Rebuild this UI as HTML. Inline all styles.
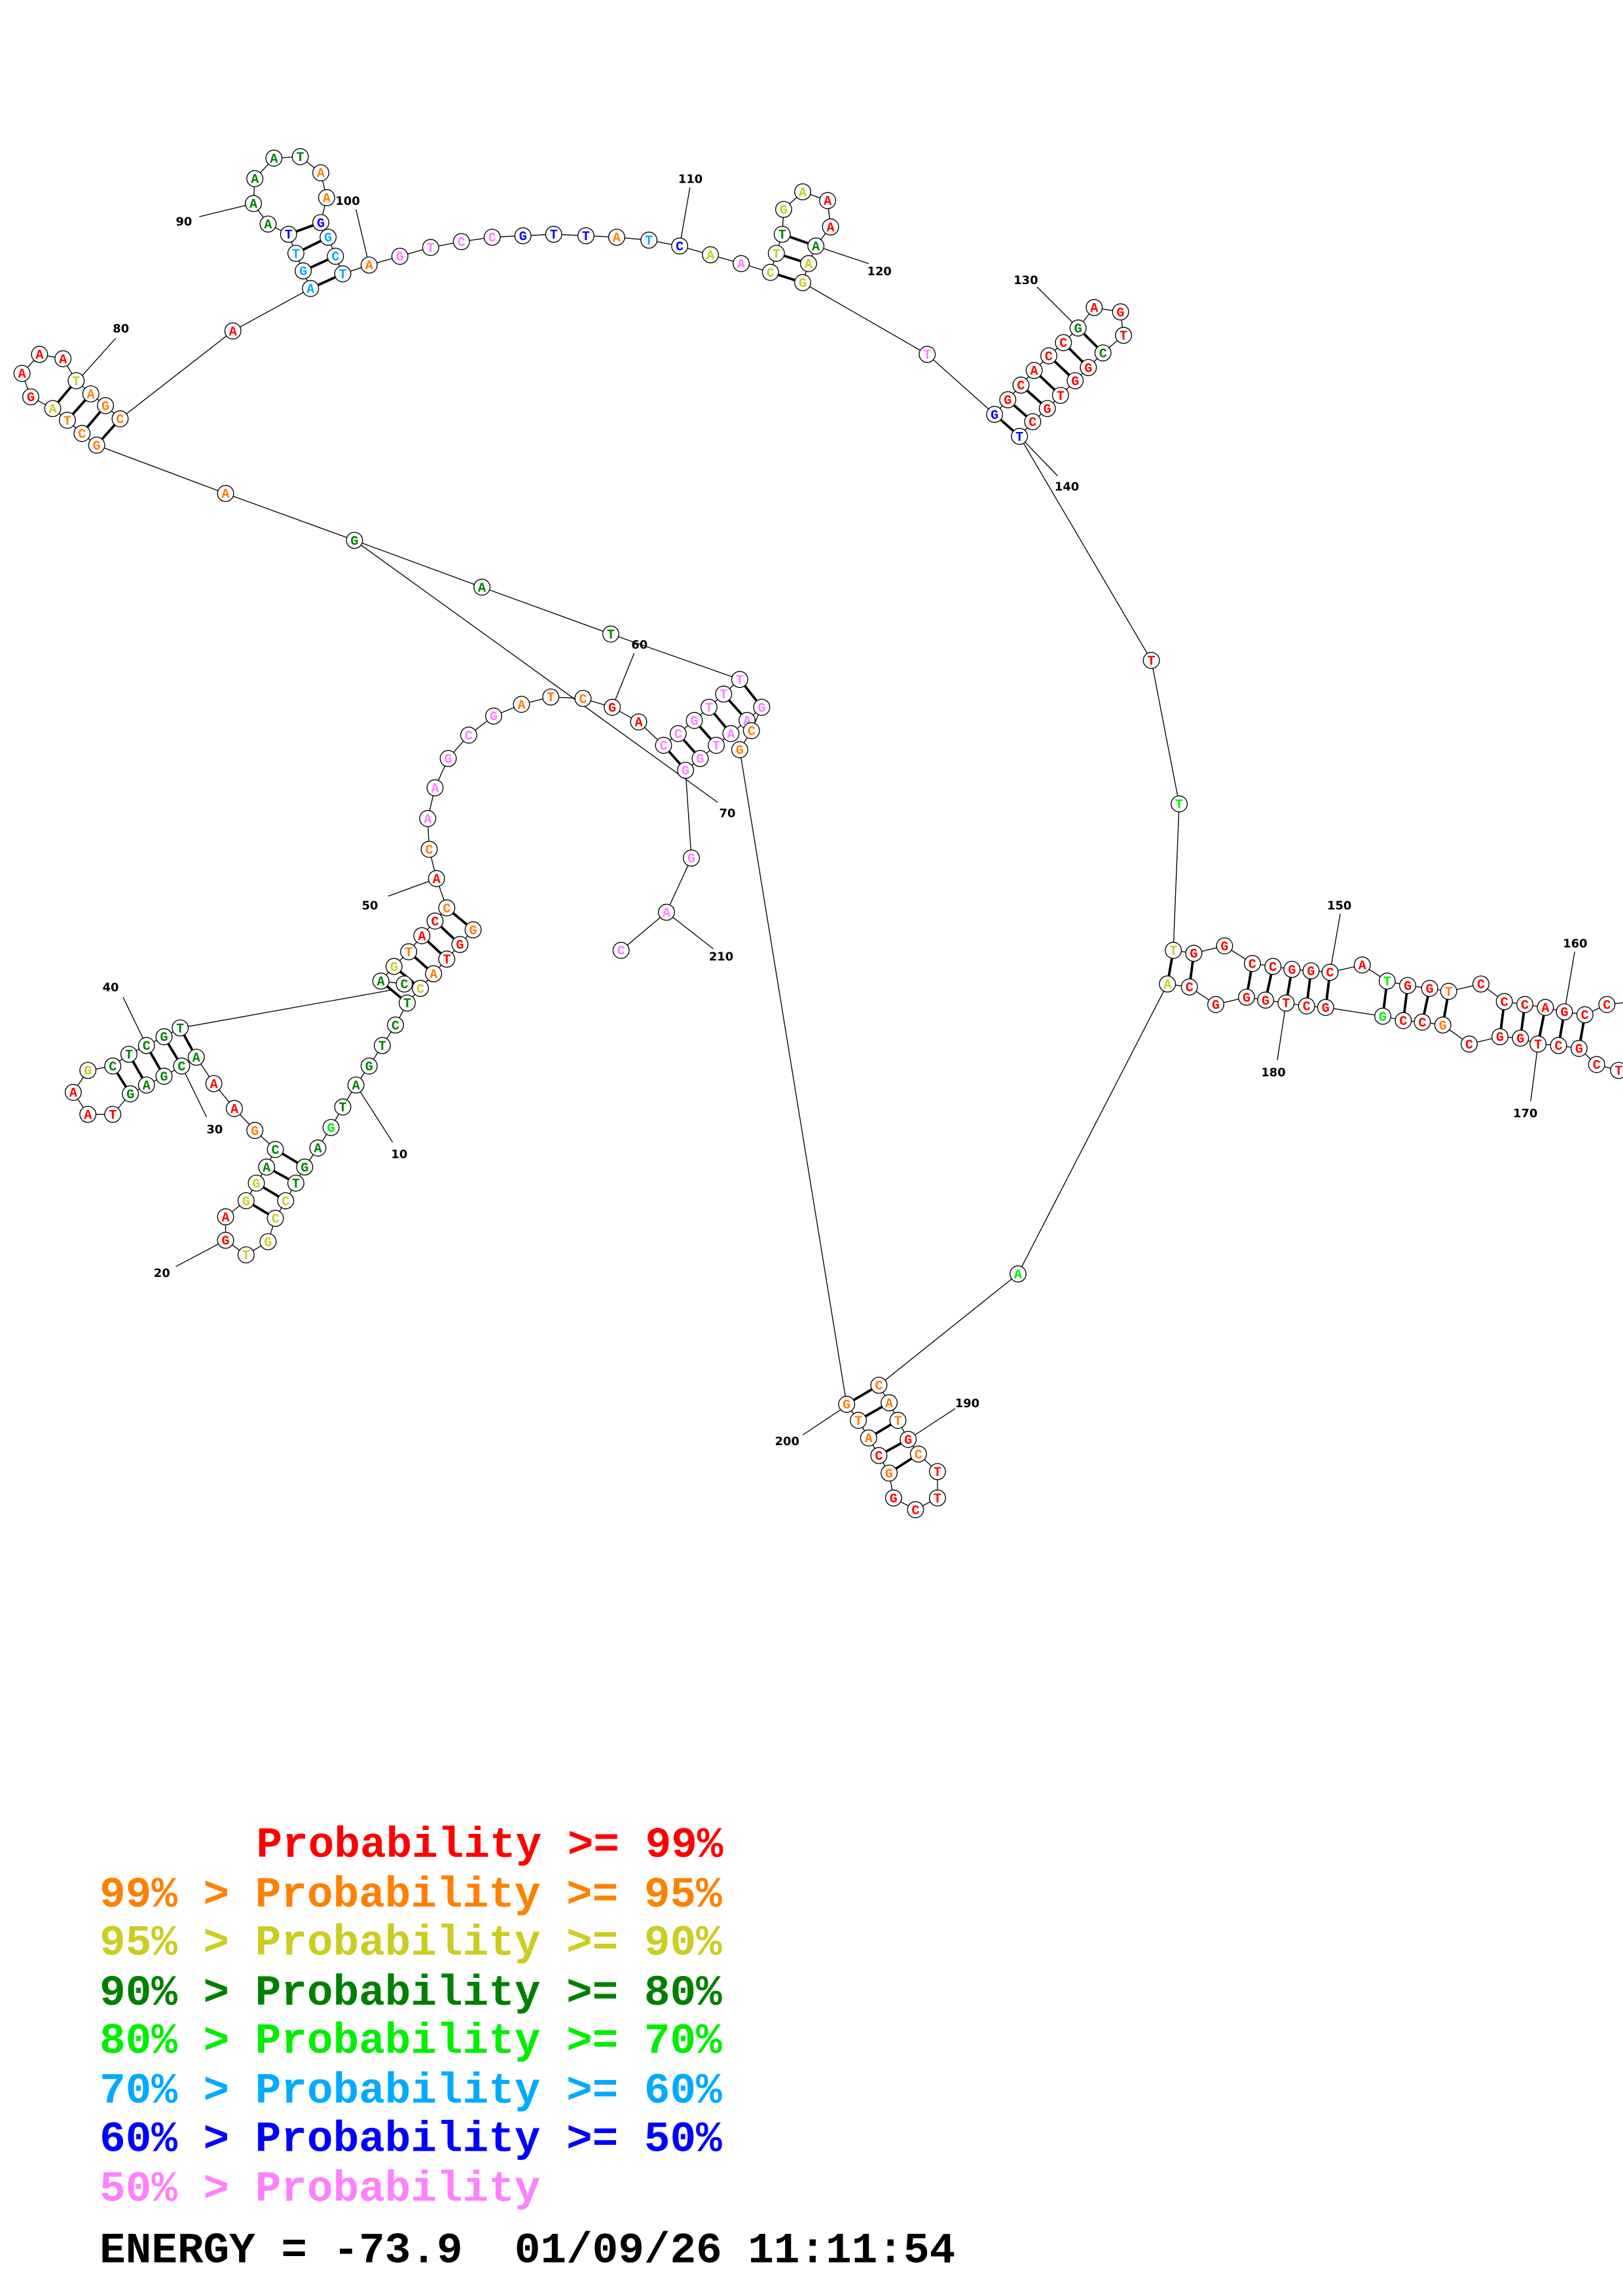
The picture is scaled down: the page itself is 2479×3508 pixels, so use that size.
<!DOCTYPE html>
<html><head><meta charset="utf-8"><style>
html,body{margin:0;padding:0;background:#fff}
svg{display:block}
.n circle{fill:#fff;stroke:#000;stroke-width:.6}
.n text{font-family:"Liberation Mono",monospace;font-weight:bold;font-size:9px;text-anchor:middle}
.R{fill:#f00}.O{fill:#ff8000}.Y{fill:#cccc22}.G{fill:#008000}.L{fill:#00ee00}.B{fill:#00aaff}.N{fill:#0000ff}.P{fill:#ff80ff}
.bb{fill:none;stroke:#000;stroke-width:.6}
.pr{stroke:#000;stroke-width:1.7}
.lb{font-family:"DejaVu Sans","Liberation Sans",sans-serif;font-weight:bold;font-size:8px;fill:#000}
.lg{font-family:"Liberation Mono",monospace;font-weight:bold;font-size:29.5px;white-space:pre}
</style></head><body>
<svg width="2479" height="3508" viewBox="0 0 1108 1568" preserveAspectRatio="none" xmlns="http://www.w3.org/2000/svg">
<polyline class="bb" points="323,635 314,645 305,655 296,665 287,675 278,685 270,700 261,714 252,728 243,741 234,756 226,770 217,784 208,797 202,808 195,820 188,832 183,848 168,857 154,847 154,831 168,820 175,808 182,797 188,785 174,772 160,757 146,740 134,722 124,728 112,735 100,741 89,747 77,761 60,761 50,746 60,731 77,728 88,720 100,714 112,708 123,702 268,676"/>
<polyline class="bb" points="276,672 260,670 269,660 279,650 288,639 297,629 305,620 298,600 293,580 292,559 297,538 306,518 320,502 337,489 356,481 376,476 398,477 418,483 436,493 453,509 463,501 474,492 484,483 494,474 505,464 417,433 329,401 242,369 154,337 66,304 56,296 46,287 36,279 21,271 15,255 27,242 43,245 52,260 62,269 72,277 82,286 159,226 212,197 207,185 202,173 197,160 183,153 173,139 174,122 187,108 205,107 219,118 223,135 219,152 224,162 229,175 234,187 252,181 273,175 294,169 315,165 336,162 357,161 378,160 400,161 421,162 443,164 464,168 485,174 506,180 526,186 530,173 534,160 535,143 548,131 565,137 567,155 557,168 552,180 548,193 633,242 679,283 688,273 697,263 706,253 716,243 726,234 736,224 747,210 765,213 767,229 753,241 743,251 734,260 724,270 715,279 705,288 696,298 786,451 805,549 801,649 815,651 836,646 855,658 869,660 882,662 895,663 908,664 930,659 947,670 961,673 976,675 989,677 1011,672 1027,684 1041,686 1055,688 1068,691 1082,693 1097,686 1115,684"/>
<polyline class="bb" points="1115,735 1105,731 1090,727 1078,716 1064,714 1050,713 1038,709 1024,708 1003,713 985,700 971,698 958,697 944,694 905,688 892,687 878,685 864,683 851,681 830,686 812,674 797,672 695,870 600,946 607,958 613,970 620,983 627,993 640,1005 640,1023 625,1031 610,1023 607,1006 600,994 593,982 586,970 578,959 505,512 513,499 520,483 510,492 499,501 489,509 478,518 468,526 472,586 455,623 424,649"/>
<line class="bb" x1="242" y1="369" x2="490" y2="548"/>
<g class="pr">
<line x1="305" y1="620" x2="323" y2="635"/><line x1="297" y1="629" x2="314" y2="645"/><line x1="288" y1="639" x2="305" y2="655"/><line x1="279" y1="650" x2="296" y2="665"/><line x1="269" y1="660" x2="287" y2="675"/><line x1="260" y1="670" x2="278" y2="685"/>
<line x1="188" y1="785" x2="208" y2="797"/><line x1="182" y1="797" x2="202" y2="808"/><line x1="175" y1="808" x2="195" y2="820"/><line x1="168" y1="820" x2="188" y2="832"/>
<line x1="123" y1="702" x2="134" y2="722"/><line x1="112" y1="708" x2="124" y2="728"/><line x1="100" y1="714" x2="112" y2="735"/><line x1="88" y1="720" x2="100" y2="741"/><line x1="77" y1="728" x2="89" y2="747"/>
<line x1="505" y1="464" x2="520" y2="483"/><line x1="494" y1="474" x2="510" y2="492"/><line x1="484" y1="483" x2="499" y2="501"/><line x1="474" y1="492" x2="489" y2="509"/><line x1="463" y1="501" x2="478" y2="518"/><line x1="453" y1="509" x2="468" y2="526"/>
<line x1="52" y1="260" x2="36" y2="279"/><line x1="62" y1="269" x2="46" y2="287"/><line x1="72" y1="277" x2="56" y2="296"/><line x1="82" y1="286" x2="66" y2="304"/>
<line x1="212" y1="197" x2="234" y2="187"/><line x1="207" y1="185" x2="229" y2="175"/><line x1="202" y1="173" x2="224" y2="162"/><line x1="197" y1="160" x2="219" y2="152"/>
<line x1="526" y1="186" x2="548" y2="193"/><line x1="530" y1="173" x2="552" y2="180"/><line x1="534" y1="160" x2="557" y2="168"/>
<line x1="679" y1="283" x2="696" y2="298"/><line x1="688" y1="273" x2="705" y2="288"/><line x1="697" y1="263" x2="715" y2="279"/><line x1="706" y1="253" x2="724" y2="270"/><line x1="716" y1="243" x2="734" y2="260"/><line x1="726" y1="234" x2="743" y2="251"/><line x1="736" y1="224" x2="753" y2="241"/>
<line x1="801" y1="649" x2="797" y2="672"/><line x1="815" y1="651" x2="812" y2="674"/><line x1="855" y1="658" x2="851" y2="681"/><line x1="869" y1="660" x2="864" y2="683"/><line x1="882" y1="662" x2="878" y2="685"/><line x1="895" y1="663" x2="892" y2="687"/><line x1="908" y1="664" x2="905" y2="688"/><line x1="947" y1="670" x2="944" y2="694"/><line x1="961" y1="673" x2="958" y2="697"/><line x1="976" y1="675" x2="971" y2="698"/><line x1="989" y1="677" x2="985" y2="700"/><line x1="1027" y1="684" x2="1024" y2="708"/><line x1="1041" y1="686" x2="1038" y2="709"/><line x1="1055" y1="688" x2="1050" y2="713"/><line x1="1068" y1="691" x2="1064" y2="714"/><line x1="1082" y1="693" x2="1078" y2="716"/>
<line x1="600" y1="946" x2="578" y2="959"/><line x1="607" y1="958" x2="586" y2="970"/><line x1="613" y1="970" x2="593" y2="982"/><line x1="620" y1="983" x2="600" y2="994"/><line x1="627" y1="993" x2="607" y2="1006"/>
</g>
<g class="bb">
<line x1="243" y1="741" x2="268" y2="780"/><line x1="120" y1="865" x2="154" y2="847"/><line x1="124" y1="728" x2="141" y2="763"/><line x1="84" y1="681" x2="100" y2="714"/><line x1="265" y1="612" x2="298" y2="600"/><line x1="433" y1="446" x2="418" y2="483"/><line x1="79" y1="231" x2="53" y2="260"/><line x1="136" y1="148" x2="173" y2="139"/><line x1="243" y1="143" x2="252" y2="181"/><line x1="471" y1="128" x2="464" y2="168"/><line x1="593" y1="180" x2="557" y2="168"/><line x1="708" y1="196" x2="736" y2="224"/><line x1="722" y1="325" x2="696" y2="298"/><line x1="915" y1="624" x2="908" y2="664"/><line x1="1075" y1="650" x2="1068" y2="691"/><line x1="1045" y1="752" x2="1050" y2="713"/><line x1="872" y1="724" x2="878" y2="685"/><line x1="652" y1="962" x2="620" y2="983"/><line x1="548" y1="980" x2="578" y2="960"/><line x1="487" y1="648" x2="455" y2="623"/>
</g>
<g>
<text class="lb" x="267" y="791">10</text><text class="lb" x="105" y="872">20</text><text class="lb" x="141" y="774">30</text><text class="lb" x="70" y="677">40</text><text class="lb" x="247" y="621">50</text><text class="lb" x="431" y="443">60</text><text class="lb" x="491" y="558">70</text><text class="lb" x="77" y="227">80</text><text class="lb" x="120" y="154">90</text><text class="lb" x="229" y="140">100</text><text class="lb" x="463" y="125">110</text><text class="lb" x="592" y="188">120</text><text class="lb" x="692" y="194">130</text><text class="lb" x="720" y="335">140</text><text class="lb" x="906" y="621">150</text><text class="lb" x="1067" y="647">160</text><text class="lb" x="1033" y="763">170</text><text class="lb" x="861" y="735">180</text><text class="lb" x="652" y="961">190</text><text class="lb" x="529" y="987">200</text><text class="lb" x="484" y="656">210</text>
</g>
<g class="n">
<g transform="translate(323,635)"><circle r="5.5"/><text class="O" y="3">G</text></g>
<g transform="translate(314,645)"><circle r="5.5"/><text class="R" y="3">G</text></g>
<g transform="translate(305,655)"><circle r="5.5"/><text class="R" y="3">T</text></g>
<g transform="translate(296,665)"><circle r="5.5"/><text class="O" y="3">A</text></g>
<g transform="translate(287,675)"><circle r="5.5"/><text class="Y" y="3">C</text></g>
<g transform="translate(278,685)"><circle r="5.5"/><text class="G" y="3">T</text></g>
<g transform="translate(270,700)"><circle r="5.5"/><text class="G" y="3">C</text></g>
<g transform="translate(261,714)"><circle r="5.5"/><text class="G" y="3">T</text></g>
<g transform="translate(252,728)"><circle r="5.5"/><text class="G" y="3">G</text></g>
<g transform="translate(243,741)"><circle r="5.5"/><text class="G" y="3">A</text></g>
<g transform="translate(234,756)"><circle r="5.5"/><text class="G" y="3">T</text></g>
<g transform="translate(226,770)"><circle r="5.5"/><text class="L" y="3">G</text></g>
<g transform="translate(217,784)"><circle r="5.5"/><text class="G" y="3">A</text></g>
<g transform="translate(208,797)"><circle r="5.5"/><text class="G" y="3">G</text></g>
<g transform="translate(202,808)"><circle r="5.5"/><text class="G" y="3">T</text></g>
<g transform="translate(195,820)"><circle r="5.5"/><text class="Y" y="3">C</text></g>
<g transform="translate(188,832)"><circle r="5.5"/><text class="Y" y="3">C</text></g>
<g transform="translate(183,848)"><circle r="5.5"/><text class="Y" y="3">G</text></g>
<g transform="translate(168,857)"><circle r="5.5"/><text class="Y" y="3">T</text></g>
<g transform="translate(154,847)"><circle r="5.5"/><text class="R" y="3">G</text></g>
<g transform="translate(154,831)"><circle r="5.5"/><text class="R" y="3">A</text></g>
<g transform="translate(168,820)"><circle r="5.5"/><text class="Y" y="3">G</text></g>
<g transform="translate(175,808)"><circle r="5.5"/><text class="Y" y="3">G</text></g>
<g transform="translate(182,797)"><circle r="5.5"/><text class="G" y="3">A</text></g>
<g transform="translate(188,785)"><circle r="5.5"/><text class="G" y="3">C</text></g>
<g transform="translate(174,772)"><circle r="5.5"/><text class="O" y="3">G</text></g>
<g transform="translate(160,757)"><circle r="5.5"/><text class="R" y="3">A</text></g>
<g transform="translate(146,740)"><circle r="5.5"/><text class="R" y="3">A</text></g>
<g transform="translate(134,722)"><circle r="5.5"/><text class="G" y="3">A</text></g>
<g transform="translate(124,728)"><circle r="5.5"/><text class="G" y="3">C</text></g>
<g transform="translate(112,735)"><circle r="5.5"/><text class="G" y="3">G</text></g>
<g transform="translate(100,741)"><circle r="5.5"/><text class="G" y="3">A</text></g>
<g transform="translate(89,747)"><circle r="5.5"/><text class="G" y="3">G</text></g>
<g transform="translate(77,761)"><circle r="5.5"/><text class="R" y="3">T</text></g>
<g transform="translate(60,761)"><circle r="5.5"/><text class="R" y="3">A</text></g>
<g transform="translate(50,746)"><circle r="5.5"/><text class="R" y="3">A</text></g>
<g transform="translate(60,731)"><circle r="5.5"/><text class="Y" y="3">G</text></g>
<g transform="translate(77,728)"><circle r="5.5"/><text class="G" y="3">C</text></g>
<g transform="translate(88,720)"><circle r="5.5"/><text class="G" y="3">T</text></g>
<g transform="translate(100,714)"><circle r="5.5"/><text class="G" y="3">C</text></g>
<g transform="translate(112,708)"><circle r="5.5"/><text class="G" y="3">G</text></g>
<g transform="translate(123,702)"><circle r="5.5"/><text class="G" y="3">T</text></g>
<g transform="translate(260,670)"><circle r="5.5"/><text class="G" y="3">A</text></g>
<g transform="translate(276,672)"><circle r="5.5"/><text class="G" y="3">C</text></g>
<g transform="translate(269,660)"><circle r="5.5"/><text class="Y" y="3">G</text></g>
<g transform="translate(279,650)"><circle r="5.5"/><text class="O" y="3">T</text></g>
<g transform="translate(288,639)"><circle r="5.5"/><text class="R" y="3">A</text></g>
<g transform="translate(297,629)"><circle r="5.5"/><text class="R" y="3">C</text></g>
<g transform="translate(305,620)"><circle r="5.5"/><text class="O" y="3">C</text></g>
<g transform="translate(298,600)"><circle r="5.5"/><text class="R" y="3">A</text></g>
<g transform="translate(293,580)"><circle r="5.5"/><text class="O" y="3">C</text></g>
<g transform="translate(292,559)"><circle r="5.5"/><text class="P" y="3">A</text></g>
<g transform="translate(297,538)"><circle r="5.5"/><text class="P" y="3">A</text></g>
<g transform="translate(306,518)"><circle r="5.5"/><text class="P" y="3">G</text></g>
<g transform="translate(320,502)"><circle r="5.5"/><text class="P" y="3">C</text></g>
<g transform="translate(337,489)"><circle r="5.5"/><text class="P" y="3">G</text></g>
<g transform="translate(356,481)"><circle r="5.5"/><text class="O" y="3">A</text></g>
<g transform="translate(376,476)"><circle r="5.5"/><text class="O" y="3">T</text></g>
<g transform="translate(398,477)"><circle r="5.5"/><text class="O" y="3">C</text></g>
<g transform="translate(418,483)"><circle r="5.5"/><text class="R" y="3">G</text></g>
<g transform="translate(436,493)"><circle r="5.5"/><text class="R" y="3">A</text></g>
<g transform="translate(453,509)"><circle r="5.5"/><text class="P" y="3">C</text></g>
<g transform="translate(463,501)"><circle r="5.5"/><text class="P" y="3">C</text></g>
<g transform="translate(474,492)"><circle r="5.5"/><text class="P" y="3">G</text></g>
<g transform="translate(484,483)"><circle r="5.5"/><text class="P" y="3">T</text></g>
<g transform="translate(494,474)"><circle r="5.5"/><text class="P" y="3">T</text></g>
<g transform="translate(505,464)"><circle r="5.5"/><text class="P" y="3">T</text></g>
<g transform="translate(417,433)"><circle r="5.5"/><text class="G" y="3">T</text></g>
<g transform="translate(329,401)"><circle r="5.5"/><text class="G" y="3">A</text></g>
<g transform="translate(242,369)"><circle r="5.5"/><text class="G" y="3">G</text></g>
<g transform="translate(154,337)"><circle r="5.5"/><text class="O" y="3">A</text></g>
<g transform="translate(66,304)"><circle r="5.5"/><text class="O" y="3">G</text></g>
<g transform="translate(56,296)"><circle r="5.5"/><text class="O" y="3">C</text></g>
<g transform="translate(46,287)"><circle r="5.5"/><text class="O" y="3">T</text></g>
<g transform="translate(36,279)"><circle r="5.5"/><text class="Y" y="3">A</text></g>
<g transform="translate(21,271)"><circle r="5.5"/><text class="R" y="3">G</text></g>
<g transform="translate(15,255)"><circle r="5.5"/><text class="R" y="3">A</text></g>
<g transform="translate(27,242)"><circle r="5.5"/><text class="R" y="3">A</text></g>
<g transform="translate(43,245)"><circle r="5.5"/><text class="R" y="3">A</text></g>
<g transform="translate(52,260)"><circle r="5.5"/><text class="Y" y="3">T</text></g>
<g transform="translate(62,269)"><circle r="5.5"/><text class="O" y="3">A</text></g>
<g transform="translate(72,277)"><circle r="5.5"/><text class="O" y="3">G</text></g>
<g transform="translate(82,286)"><circle r="5.5"/><text class="O" y="3">C</text></g>
<g transform="translate(159,226)"><circle r="5.5"/><text class="R" y="3">A</text></g>
<g transform="translate(212,197)"><circle r="5.5"/><text class="B" y="3">A</text></g>
<g transform="translate(207,185)"><circle r="5.5"/><text class="B" y="3">G</text></g>
<g transform="translate(202,173)"><circle r="5.5"/><text class="B" y="3">T</text></g>
<g transform="translate(197,160)"><circle r="5.5"/><text class="N" y="3">T</text></g>
<g transform="translate(183,153)"><circle r="5.5"/><text class="G" y="3">A</text></g>
<g transform="translate(173,139)"><circle r="5.5"/><text class="G" y="3">A</text></g>
<g transform="translate(174,122)"><circle r="5.5"/><text class="G" y="3">A</text></g>
<g transform="translate(187,108)"><circle r="5.5"/><text class="G" y="3">A</text></g>
<g transform="translate(205,107)"><circle r="5.5"/><text class="G" y="3">T</text></g>
<g transform="translate(219,118)"><circle r="5.5"/><text class="O" y="3">A</text></g>
<g transform="translate(223,135)"><circle r="5.5"/><text class="O" y="3">A</text></g>
<g transform="translate(219,152)"><circle r="5.5"/><text class="N" y="3">G</text></g>
<g transform="translate(224,162)"><circle r="5.5"/><text class="B" y="3">G</text></g>
<g transform="translate(229,175)"><circle r="5.5"/><text class="B" y="3">C</text></g>
<g transform="translate(234,187)"><circle r="5.5"/><text class="B" y="3">T</text></g>
<g transform="translate(252,181)"><circle r="5.5"/><text class="O" y="3">A</text></g>
<g transform="translate(273,175)"><circle r="5.5"/><text class="P" y="3">G</text></g>
<g transform="translate(294,169)"><circle r="5.5"/><text class="P" y="3">T</text></g>
<g transform="translate(315,165)"><circle r="5.5"/><text class="P" y="3">C</text></g>
<g transform="translate(336,162)"><circle r="5.5"/><text class="P" y="3">C</text></g>
<g transform="translate(357,161)"><circle r="5.5"/><text class="N" y="3">G</text></g>
<g transform="translate(378,160)"><circle r="5.5"/><text class="N" y="3">T</text></g>
<g transform="translate(400,161)"><circle r="5.5"/><text class="N" y="3">T</text></g>
<g transform="translate(421,162)"><circle r="5.5"/><text class="O" y="3">A</text></g>
<g transform="translate(443,164)"><circle r="5.5"/><text class="B" y="3">T</text></g>
<g transform="translate(464,168)"><circle r="5.5"/><text class="N" y="3">C</text></g>
<g transform="translate(485,174)"><circle r="5.5"/><text class="Y" y="3">A</text></g>
<g transform="translate(506,180)"><circle r="5.5"/><text class="P" y="3">A</text></g>
<g transform="translate(526,186)"><circle r="5.5"/><text class="Y" y="3">C</text></g>
<g transform="translate(530,173)"><circle r="5.5"/><text class="Y" y="3">T</text></g>
<g transform="translate(534,160)"><circle r="5.5"/><text class="G" y="3">T</text></g>
<g transform="translate(535,143)"><circle r="5.5"/><text class="Y" y="3">G</text></g>
<g transform="translate(548,131)"><circle r="5.5"/><text class="Y" y="3">A</text></g>
<g transform="translate(565,137)"><circle r="5.5"/><text class="R" y="3">A</text></g>
<g transform="translate(567,155)"><circle r="5.5"/><text class="R" y="3">A</text></g>
<g transform="translate(557,168)"><circle r="5.5"/><text class="G" y="3">A</text></g>
<g transform="translate(552,180)"><circle r="5.5"/><text class="Y" y="3">A</text></g>
<g transform="translate(548,193)"><circle r="5.5"/><text class="Y" y="3">G</text></g>
<g transform="translate(633,242)"><circle r="5.5"/><text class="P" y="3">T</text></g>
<g transform="translate(679,283)"><circle r="5.5"/><text class="N" y="3">G</text></g>
<g transform="translate(688,273)"><circle r="5.5"/><text class="R" y="3">G</text></g>
<g transform="translate(697,263)"><circle r="5.5"/><text class="R" y="3">C</text></g>
<g transform="translate(706,253)"><circle r="5.5"/><text class="R" y="3">A</text></g>
<g transform="translate(716,243)"><circle r="5.5"/><text class="R" y="3">C</text></g>
<g transform="translate(726,234)"><circle r="5.5"/><text class="R" y="3">C</text></g>
<g transform="translate(736,224)"><circle r="5.5"/><text class="G" y="3">G</text></g>
<g transform="translate(747,210)"><circle r="5.5"/><text class="R" y="3">A</text></g>
<g transform="translate(765,213)"><circle r="5.5"/><text class="R" y="3">G</text></g>
<g transform="translate(767,229)"><circle r="5.5"/><text class="R" y="3">T</text></g>
<g transform="translate(753,241)"><circle r="5.5"/><text class="G" y="3">C</text></g>
<g transform="translate(743,251)"><circle r="5.5"/><text class="R" y="3">G</text></g>
<g transform="translate(734,260)"><circle r="5.5"/><text class="R" y="3">G</text></g>
<g transform="translate(724,270)"><circle r="5.5"/><text class="R" y="3">T</text></g>
<g transform="translate(715,279)"><circle r="5.5"/><text class="R" y="3">G</text></g>
<g transform="translate(705,288)"><circle r="5.5"/><text class="R" y="3">C</text></g>
<g transform="translate(696,298)"><circle r="5.5"/><text class="N" y="3">T</text></g>
<g transform="translate(786,451)"><circle r="5.5"/><text class="R" y="3">T</text></g>
<g transform="translate(805,549)"><circle r="5.5"/><text class="L" y="3">T</text></g>
<g transform="translate(801,649)"><circle r="5.5"/><text class="Y" y="3">T</text></g>
<g transform="translate(815,651)"><circle r="5.5"/><text class="R" y="3">G</text></g>
<g transform="translate(836,646)"><circle r="5.5"/><text class="R" y="3">G</text></g>
<g transform="translate(855,658)"><circle r="5.5"/><text class="R" y="3">C</text></g>
<g transform="translate(869,660)"><circle r="5.5"/><text class="R" y="3">C</text></g>
<g transform="translate(882,662)"><circle r="5.5"/><text class="R" y="3">G</text></g>
<g transform="translate(895,663)"><circle r="5.5"/><text class="R" y="3">G</text></g>
<g transform="translate(908,664)"><circle r="5.5"/><text class="R" y="3">C</text></g>
<g transform="translate(930,659)"><circle r="5.5"/><text class="R" y="3">A</text></g>
<g transform="translate(947,670)"><circle r="5.5"/><text class="L" y="3">T</text></g>
<g transform="translate(961,673)"><circle r="5.5"/><text class="R" y="3">G</text></g>
<g transform="translate(976,675)"><circle r="5.5"/><text class="R" y="3">G</text></g>
<g transform="translate(989,677)"><circle r="5.5"/><text class="O" y="3">T</text></g>
<g transform="translate(1011,672)"><circle r="5.5"/><text class="R" y="3">C</text></g>
<g transform="translate(1027,684)"><circle r="5.5"/><text class="R" y="3">C</text></g>
<g transform="translate(1041,686)"><circle r="5.5"/><text class="R" y="3">C</text></g>
<g transform="translate(1055,688)"><circle r="5.5"/><text class="R" y="3">A</text></g>
<g transform="translate(1068,691)"><circle r="5.5"/><text class="R" y="3">G</text></g>
<g transform="translate(1082,693)"><circle r="5.5"/><text class="R" y="3">C</text></g>
<g transform="translate(1097,686)"><circle r="5.5"/><text class="R" y="3">C</text></g>
<g transform="translate(1105,731)"><circle r="5.5"/><text class="R" y="3">T</text></g>
<g transform="translate(1090,727)"><circle r="5.5"/><text class="R" y="3">C</text></g>
<g transform="translate(1078,716)"><circle r="5.5"/><text class="R" y="3">G</text></g>
<g transform="translate(1064,714)"><circle r="5.5"/><text class="R" y="3">C</text></g>
<g transform="translate(1050,713)"><circle r="5.5"/><text class="R" y="3">T</text></g>
<g transform="translate(1038,709)"><circle r="5.5"/><text class="R" y="3">G</text></g>
<g transform="translate(1024,708)"><circle r="5.5"/><text class="R" y="3">G</text></g>
<g transform="translate(1003,713)"><circle r="5.5"/><text class="R" y="3">C</text></g>
<g transform="translate(985,700)"><circle r="5.5"/><text class="O" y="3">G</text></g>
<g transform="translate(971,698)"><circle r="5.5"/><text class="R" y="3">C</text></g>
<g transform="translate(958,697)"><circle r="5.5"/><text class="R" y="3">C</text></g>
<g transform="translate(944,694)"><circle r="5.5"/><text class="L" y="3">G</text></g>
<g transform="translate(905,688)"><circle r="5.5"/><text class="R" y="3">G</text></g>
<g transform="translate(892,687)"><circle r="5.5"/><text class="R" y="3">C</text></g>
<g transform="translate(878,685)"><circle r="5.5"/><text class="R" y="3">T</text></g>
<g transform="translate(864,683)"><circle r="5.5"/><text class="R" y="3">G</text></g>
<g transform="translate(851,681)"><circle r="5.5"/><text class="R" y="3">G</text></g>
<g transform="translate(830,686)"><circle r="5.5"/><text class="R" y="3">G</text></g>
<g transform="translate(812,674)"><circle r="5.5"/><text class="R" y="3">C</text></g>
<g transform="translate(797,672)"><circle r="5.5"/><text class="Y" y="3">A</text></g>
<g transform="translate(695,870)"><circle r="5.5"/><text class="L" y="3">A</text></g>
<g transform="translate(600,946)"><circle r="5.5"/><text class="O" y="3">C</text></g>
<g transform="translate(607,958)"><circle r="5.5"/><text class="O" y="3">A</text></g>
<g transform="translate(613,970)"><circle r="5.5"/><text class="O" y="3">T</text></g>
<g transform="translate(620,983)"><circle r="5.5"/><text class="R" y="3">G</text></g>
<g transform="translate(627,993)"><circle r="5.5"/><text class="O" y="3">C</text></g>
<g transform="translate(640,1005)"><circle r="5.5"/><text class="R" y="3">T</text></g>
<g transform="translate(640,1023)"><circle r="5.5"/><text class="R" y="3">T</text></g>
<g transform="translate(625,1031)"><circle r="5.5"/><text class="R" y="3">C</text></g>
<g transform="translate(610,1023)"><circle r="5.5"/><text class="R" y="3">G</text></g>
<g transform="translate(607,1006)"><circle r="5.5"/><text class="O" y="3">G</text></g>
<g transform="translate(600,994)"><circle r="5.5"/><text class="R" y="3">C</text></g>
<g transform="translate(593,982)"><circle r="5.5"/><text class="O" y="3">A</text></g>
<g transform="translate(586,970)"><circle r="5.5"/><text class="O" y="3">T</text></g>
<g transform="translate(578,959)"><circle r="5.5"/><text class="O" y="3">G</text></g>
<g transform="translate(505,512)"><circle r="5.5"/><text class="O" y="3">G</text></g>
<g transform="translate(520,483)"><circle r="5.5"/><text class="P" y="3">G</text></g>
<g transform="translate(510,492)"><circle r="5.5"/><text class="P" y="3">A</text></g>
<g transform="translate(513,499)"><circle r="5.5"/><text class="O" y="3">C</text></g>
<g transform="translate(499,501)"><circle r="5.5"/><text class="P" y="3">A</text></g>
<g transform="translate(489,509)"><circle r="5.5"/><text class="P" y="3">T</text></g>
<g transform="translate(478,518)"><circle r="5.5"/><text class="P" y="3">G</text></g>
<g transform="translate(468,526)"><circle r="5.5"/><text class="P" y="3">G</text></g>
<g transform="translate(472,586)"><circle r="5.5"/><text class="P" y="3">G</text></g>
<g transform="translate(455,623)"><circle r="5.5"/><text class="P" y="3">A</text></g>
<g transform="translate(424,649)"><circle r="5.5"/><text class="P" y="3">C</text></g>
</g>
<g class="lg">
<text x="175" y="1268" fill="#ff0000">Probability &gt;= 99%</text>
<text x="68" y="1302" fill="#ff8000">99% &gt; Probability &gt;= 95%</text>
<text x="68" y="1335" fill="#cccc22">95% &gt; Probability &gt;= 90%</text>
<text x="68" y="1369" fill="#008000">90% &gt; Probability &gt;= 80%</text>
<text x="68" y="1402" fill="#00ee00">80% &gt; Probability &gt;= 70%</text>
<text x="68" y="1436" fill="#00aaff">70% &gt; Probability &gt;= 60%</text>
<text x="68" y="1469" fill="#0000ff">60% &gt; Probability &gt;= 50%</text>
<text x="68" y="1503" fill="#ff80ff">50% &gt; Probability</text>
<text x="68" y="1545" fill="#000">ENERGY = -73.9 &#160;01/09/26 11:11:54</text>
</g>
</svg>
</body></html>
